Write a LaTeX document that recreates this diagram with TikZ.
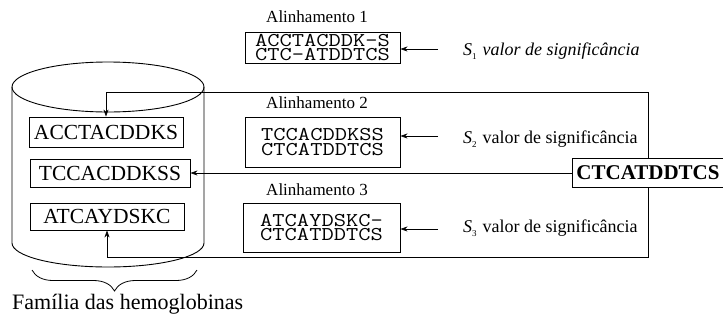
\documentclass[tikz,border=0pt]{standalone}
\usepackage{fontspec}
\setmainfont{Liberation Serif}
\usetikzlibrary{arrows.meta,decorations.pathreplacing}
% aligned residues: slab-serif monospace, widened a little
\newcommand{\mseq}[1]{\scalebox{1.22}[1]{#1}}
\newcommand{\sidx}[1]{\raisebox{-0.45ex}{\fontsize{9}{9}\selectfont #1}}
\begin{document}
\begin{tikzpicture}[x=1pt,y=-1pt,
  seqbox/.style={draw,line width=0.9pt,inner sep=2pt,font=\fontsize{21.5}{23}\selectfont},
  alnbox/.style={draw,line width=0.9pt,align=center,inner sep=2pt,
    font=\ttfamily\fontsize{19.5}{14.5}\selectfont},
  alnlabel/.style={inner sep=0pt,font=\fontsize{17}{19}\selectfont},
  siglabel/.style={anchor=west,inner sep=0pt,font=\fontsize{18}{20}\selectfont},
  query/.style={draw,line width=0.9pt,anchor=west,inner sep=4pt,minimum height=29,
    font=\bfseries\fontsize{21}{23}\selectfont},
  link/.style={line width=0.7pt,-{Stealth[length=7pt,width=5pt]}}]
\useasboundingbox (0,0) rectangle (723,322);

% database cylinder
\draw[line width=0.9pt] (108,87) ellipse[x radius=96,y radius=25];
\draw[line width=0.9pt] (12,87) -- (12,243)
  arc[start angle=180,end angle=0,x radius=96,y radius=24] -- (204,87);

% sequences stored in the family
\node[seqbox,minimum width=154,minimum height=30] (s1) at (106,132) {ACCTACDDKS};
\node[seqbox,minimum width=160,minimum height=28] (s2) at (110,173) {TCCACDDKSS};
\node[seqbox,minimum width=154,minimum height=27] (s3) at (107,216.5) {ATCAYDSKC};

% pairwise alignments
\node[alnlabel] (l1) at (317,17) {Alinhamento 1};
\node[alnbox,minimum width=155,minimum height=31] (a1) at (322.5,47.5) {\mseq{ACCTACDDK-S}\\\mseq{CTC-ATDDTCS}};
\node[alnlabel] (l2) at (317,103) {Alinhamento 2};
\node[alnbox,minimum width=155,minimum height=50] (a2) at (322.5,142) {\mseq{TCCACDDKSS}\\\mseq{CTCATDDTCS}};
\node[alnlabel] (l3) at (317,190) {Alinhamento 3};
\node[alnbox,minimum width=157,minimum height=49] (a3) at (321.5,227.5) {\mseq{ATCAYDSKC-}\\\mseq{CTCATDDTCS}};

% query sequence
\node[query] (q) at (572,173) {CTCATDDTCS};

% significance scores
\node[siglabel] (g1) at (463,51) {\textit{S}\sidx{1}\hspace{6pt}\textit{valor de significância}};
\node[siglabel] (g2) at (463,139) {\textit{S}\sidx{2}\hspace{6pt}valor de significância};
\node[siglabel] (g3) at (463,228) {\textit{S}\sidx{3}\hspace{6pt}valor de significância};

\coordinate (c1) at (438,49);
\coordinate (c2) at (438,136);
\coordinate (c3) at (438,229);
\draw[link] (c1) -- (c1 -| a1.east);
\draw[link] (c2) -- (c2 -| a2.east);
\draw[link] (c3) -- (c3 -| a3.east);

% query compared against every family member
\coordinate (t1) at (648,92);
\coordinate (t3) at (648,257);
\draw[link] (t1 |- q.north) -- (t1) -- (t1 -| s1.north) -- (s1.north);
\draw[link] (q.west) -- (q.west -| s2.east);
\draw[link] (t3 |- q.south) -- (t3) -- (t3 -| s3.south) -- (s3.south);

% family brace and caption
\coordinate (b1) at (32,270);
\coordinate (b2) at (197,270);
\draw[line width=0.8pt,decorate,decoration={brace,mirror,amplitude=21pt}] (b1) -- (b2);
\node[anchor=west,inner sep=0pt,font=\fontsize{22}{24}\selectfont] (fam) at (12,304) {Família das hemoglobinas};
\end{tikzpicture}
\end{document}
